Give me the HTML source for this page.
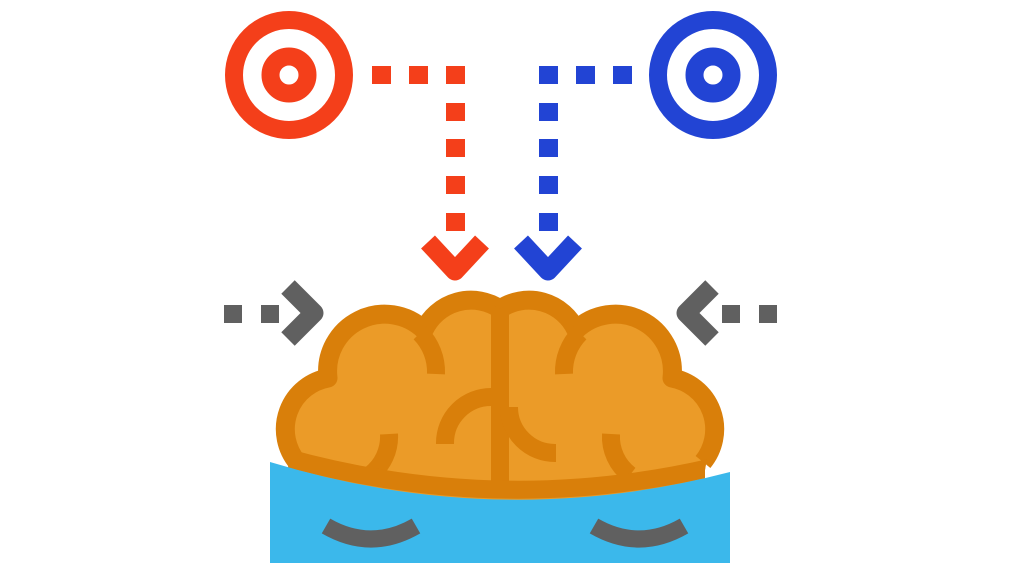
<!DOCTYPE html>
<html><head><meta charset="utf-8"><style>html,body{margin:0;padding:0;background:#fff}svg{display:block}</style></head>
<body>
<svg width="1023" height="575" viewBox="0 0 1023 575" xmlns="http://www.w3.org/2000/svg">
<defs>
<clipPath id="bc"><path d="M 288 470 L 290 440 A 52 52 0 0 1 328 378 A 57 57 0 0 1 424 330 A 52 52 0 0 1 500 309 A 52 52 0 0 1 576 330 A 57 57 0 0 1 672 378 A 52 52 0 0 1 710 440 L 705 470 L 705 530 L 288 530 Z"/></clipPath>
</defs>
<g fill="none" stroke="#F43F1A" stroke-width="18">
<circle cx="289" cy="75" r="55"/>
<circle cx="289" cy="75" r="18.5"/>
</g>
<g fill="none" stroke="#2244D4" stroke-width="18">
<circle cx="713" cy="75" r="55"/>
<circle cx="713" cy="75" r="18.5"/>
</g>
<g fill="#F43F1A">
<rect x="372" y="66" width="19" height="18"/>
<rect x="409" y="66" width="19" height="18"/>
<rect x="446" y="66" width="19" height="18"/>
<rect x="446" y="103" width="19" height="18"/>
<rect x="446" y="139" width="19" height="18"/>
<rect x="446" y="176" width="19" height="18"/>
<rect x="446" y="213" width="19" height="18"/>
</g>
<polyline points="428,242 455,271 482,242" fill="none" stroke="#F43F1A" stroke-width="19" stroke-linejoin="round"/>
<g fill="#2244D4">
<rect x="613" y="66" width="19" height="18"/>
<rect x="576" y="66" width="19" height="18"/>
<rect x="539" y="66" width="19" height="18"/>
<rect x="539" y="103" width="19" height="18"/>
<rect x="539" y="139" width="19" height="18"/>
<rect x="539" y="176" width="19" height="18"/>
<rect x="539" y="213" width="19" height="18"/>
</g>
<polyline points="521,242 548,271 575,242" fill="none" stroke="#2244D4" stroke-width="19" stroke-linejoin="round"/>
<g fill="#606060">
<rect x="224" y="305" width="18" height="18"/>
<rect x="261" y="305" width="18" height="18"/>
<rect x="722" y="305" width="18" height="18"/>
<rect x="759" y="305" width="18" height="18"/>
</g>
<polyline points="288,287 314,313 288,339" fill="none" stroke="#606060" stroke-width="19" stroke-linejoin="round"/>
<polyline points="712,287 686,313 712,339" fill="none" stroke="#606060" stroke-width="19" stroke-linejoin="round"/>
<path d="M 288 470 L 290 440 A 52 52 0 0 1 328 378 A 57 57 0 0 1 424 330 A 52 52 0 0 1 500 309 A 52 52 0 0 1 576 330 A 57 57 0 0 1 672 378 A 52 52 0 0 1 710 440 L 705 470 L 705 530 L 288 530 Z" fill="#EB9B28"/>
<path d="M 297 462 A 52 52 0 0 1 328 378 A 57 57 0 0 1 424 330 A 52 52 0 0 1 500 309 A 52 52 0 0 1 576 330 A 57 57 0 0 1 672 378 A 52 52 0 0 1 703 462" fill="none" stroke="#D97F0A" stroke-width="19" stroke-linejoin="round"/>
<g fill="none" stroke="#D97F0A" stroke-width="18" clip-path="url(#bc)">
<line x1="500" y1="305" x2="500" y2="495"/>
<path d="M 436 374 A 55 55 0 0 0 420 333"/>
<path d="M 564 374 A 55 55 0 0 1 580 333"/>
<path d="M 491 397 A 46 46 0 0 0 445 443 L 445 444"/>
<path d="M 509 407 A 46 46 0 0 0 555 453 L 556 453"/>
<path d="M 389 434 A 48 48 0 0 1 370 475"/>
<path d="M 611 434 A 48 48 0 0 0 630 475"/>
<path d="M 270 453 Q 500 521 730 463"/>
</g>
<path d="M 270 462 Q 500 532 730 472 L 730 563 L 270 563 Z" fill="#3BB8EB"/>
<g fill="none" stroke="#606060" stroke-width="17">
<path d="M 326 526 Q 371 552 416 526"/>
<path d="M 594 526 Q 639 552 684 526"/>
</g>
</svg>
</body></html>
